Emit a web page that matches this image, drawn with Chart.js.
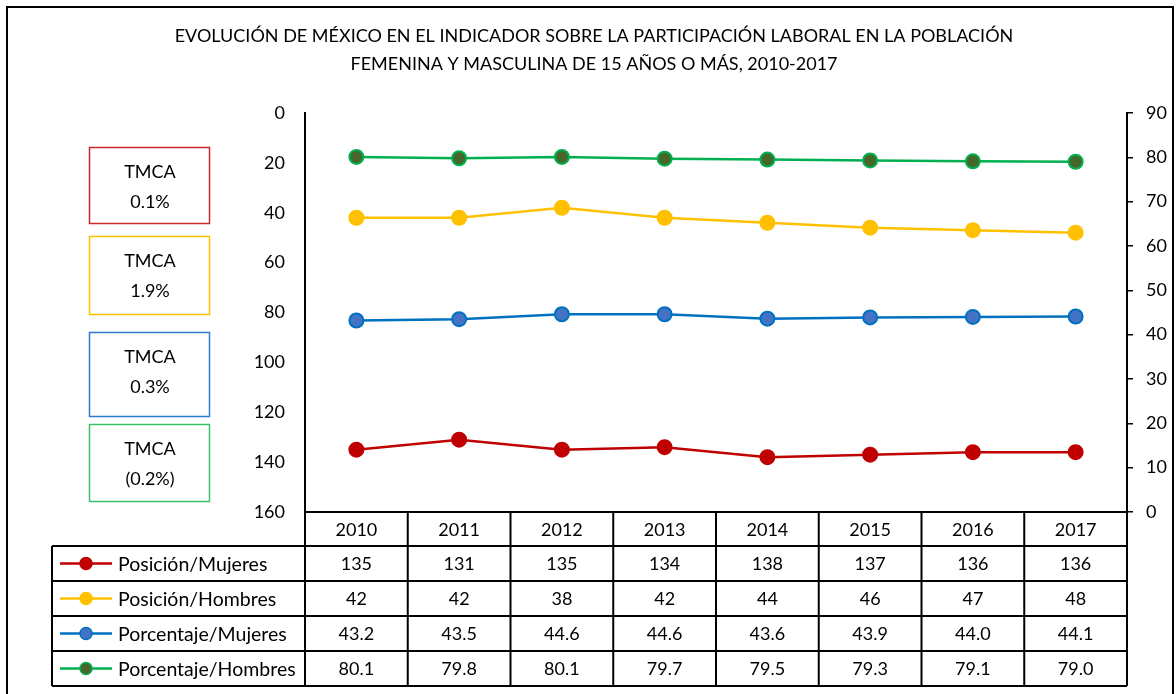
<!DOCTYPE html>
<html lang="es">
<head>
<meta charset="utf-8">
<title>Participación laboral en México, 2010-2017</title>
<script src="https://cdn.jsdelivr.net/npm/chart.js@4/dist/chart.umd.min.js"></script>
<style>
  html, body { margin: 0; padding: 0; background: #fff; }
  canvas { display: block; }
</style>
</head>
<body>
<canvas id="chart" width="1176" height="694"></canvas>
<script>
// Years shown along the bottom table
const years = ['2010', '2011', '2012', '2013', '2014', '2015', '2016', '2017'];

// Ranking positions (left axis, reversed)
const posicionMujeres = [135, 131, 135, 134, 138, 137, 136, 136];
const posicionHombres = [42, 42, 38, 42, 44, 46, 47, 48];

// Participation percentages (right axis)
const porcentajeMujeres = [43.2, 43.5, 44.6, 44.6, 43.6, 43.9, 44.0, 44.1];
const porcentajeHombres = [80.1, 79.8, 80.1, 79.7, 79.5, 79.3, 79.1, 79.0];

// Compound annual growth rates shown in the side boxes
const tmcaValores = ['0.1%', '1.9%', '0.3%', '(0.2%)'];

const tituloLineas = [
  'EVOLUCIÓN DE MÉXICO EN EL INDICADOR SOBRE LA PARTICIPACIÓN LABORAL EN LA POBLACIÓN',
  'FEMENINA Y MASCULINA DE 15 AÑOS O MÁS, 2010-2017'
];

const FONT = 'Lato, "Open Sans", sans-serif';

const series = [
  { label: 'Posición/Mujeres', data: posicionMujeres, axis: 'yPos', line: '#C00000', fill: '#C00000', edge: '#C00000', digits: 0, box: '#C8282B' },
  { label: 'Posición/Hombres', data: posicionHombres, axis: 'yPos', line: '#FFC000', fill: '#FFC000', edge: '#FFC000', digits: 0, box: '#FFC000' },
  { label: 'Porcentaje/Mujeres', data: porcentajeMujeres, axis: 'yPct', line: '#0070C0', fill: '#4472C4', edge: '#0070C0', digits: 1, box: '#2E7BCF' },
  { label: 'Porcentaje/Hombres', data: porcentajeHombres, axis: 'yPct', line: '#00B050', fill: '#46662A', edge: '#00B050', digits: 1, box: '#3CBF6A' }
];

// Title, side boxes, and the data table drawn under the plot
const extras = {
  id: 'extras',
  beforeDraw(chart) {
    const ctx = chart.ctx;
    ctx.save();
    ctx.fillStyle = '#fff';
    ctx.fillRect(0, 0, chart.width, chart.height);
    ctx.restore();
  },
  afterDraw(chart) {
    const ctx = chart.ctx;
    const area = chart.chartArea;
    const x = chart.scales.x;
    ctx.save();

    // outer frame
    ctx.strokeStyle = '#000';
    ctx.lineWidth = 2;
    ctx.strokeRect(7, 7, chart.width - 10, chart.height + 10);

    // title
    ctx.fillStyle = '#000';
    ctx.font = '18px ' + FONT;
    ctx.textAlign = 'center';
    ctx.textBaseline = 'middle';
    ctx.fillText(tituloLineas[0], 594, 36);
    ctx.fillText(tituloLineas[1], 594, 64);

    // TMCA boxes
    const boxTops = [147, 236, 332, 424];
    const boxBottoms = [223, 314, 416, 501];
    series.forEach((s, i) => {
      ctx.strokeStyle = s.box;
      ctx.lineWidth = 1.5;
      ctx.strokeRect(89.5, boxTops[i] + 0.5, 120, boxBottoms[i] - boxTops[i]);
      ctx.fillStyle = '#000';
      ctx.font = '18px ' + FONT;
      ctx.fillText('TMCA', 150, boxTops[i] + 25);
      ctx.fillText(tmcaValores[i], 150, boxTops[i] + 55);
    });

    // data table
    const tableLeft = 52;
    const headTop = area.bottom;
    const headBottom = 546;
    const rowH = 35;
    const tableBottom = headBottom + rowH * series.length;
    const edges = [];
    for (let i = 0; i <= years.length; i++) {
      edges.push(area.left + (area.right - area.left) * i / years.length);
    }

    ctx.strokeStyle = '#000';
    ctx.lineWidth = 2;
    ctx.beginPath();
    // header row
    ctx.moveTo(area.left, headTop); ctx.lineTo(area.right, headTop);
    edges.forEach(e => { ctx.moveTo(e, headTop); ctx.lineTo(e, tableBottom); });
    // body rows
    for (let r = 0; r <= series.length; r++) {
      const y = headBottom + rowH * r;
      ctx.moveTo(tableLeft, y); ctx.lineTo(area.right, y);
    }
    ctx.moveTo(tableLeft, headBottom); ctx.lineTo(tableLeft, tableBottom);
    ctx.stroke();

    ctx.fillStyle = '#000';
    ctx.font = '18px ' + FONT;
    ctx.textAlign = 'center';
    years.forEach((yr, i) => {
      ctx.fillText(yr, x.getPixelForValue(i), (headTop + headBottom) / 2 + 1);
    });

    series.forEach((s, r) => {
      const cy = headBottom + rowH * r + rowH / 2 + 1;
      // legend key
      ctx.strokeStyle = s.line;
      ctx.lineWidth = 2.5;
      ctx.beginPath();
      ctx.moveTo(60, cy - 1); ctx.lineTo(112, cy - 1);
      ctx.stroke();
      ctx.beginPath();
      ctx.arc(86, cy - 1, 6, 0, Math.PI * 2);
      ctx.fillStyle = s.fill;
      ctx.fill();
      ctx.strokeStyle = s.edge;
      ctx.lineWidth = 1.5;
      ctx.stroke();

      ctx.fillStyle = '#000';
      ctx.textAlign = 'left';
      ctx.font = '19.5px ' + FONT;
      ctx.fillText(s.label, 118, cy);
      ctx.font = '18px ' + FONT;
      ctx.textAlign = 'center';
      s.data.forEach((v, i) => {
        ctx.fillText(v.toFixed(s.digits), x.getPixelForValue(i), cy);
      });
    });

    ctx.restore();
  }
};

new Chart(document.getElementById('chart'), {
  type: 'line',
  data: {
    labels: years,
    datasets: series.map(s => ({
      label: s.label,
      data: s.data,
      yAxisID: s.axis,
      borderColor: s.line,
      backgroundColor: s.fill,
      borderWidth: 2.5,
      pointRadius: 7,
      pointBorderWidth: 2,
      pointBackgroundColor: s.fill,
      pointBorderColor: s.edge,
      tension: 0,
      fill: false
    }))
  },
  options: {
    responsive: false,
    animation: false,
    devicePixelRatio: 1,
    layout: { padding: { top: 113, bottom: 182, left: 0, right: 0 } },
    plugins: {
      legend: { display: false },
      title: { display: false },
      tooltip: { enabled: false }
    },
    scales: {
      x: {
        type: 'category',
        display: false,
        offset: true
      },
      yPos: {
        position: 'left',
        reverse: true,
        min: 0,
        max: 160,
        afterFit(scale) { scale.width = 305; },
        ticks: { stepSize: 20, padding: 20, color: '#000', font: { family: FONT, size: 18 } },
        grid: { drawOnChartArea: false, drawTicks: false },
        border: { display: true, color: '#000', width: 2 }
      },
      yPct: {
        position: 'right',
        min: 0,
        max: 90,
        afterFit(scale) { scale.width = 49; },
        ticks: { stepSize: 10, padding: 13, color: '#000', font: { family: FONT, size: 18 } },
        grid: { drawOnChartArea: false, drawTicks: true, tickLength: 6, color: '#000', lineWidth: 1.5 },
        border: { display: true, color: '#000', width: 2 }
      }
    }
  },
  plugins: [extras]
});
</script>
</body>
</html>
